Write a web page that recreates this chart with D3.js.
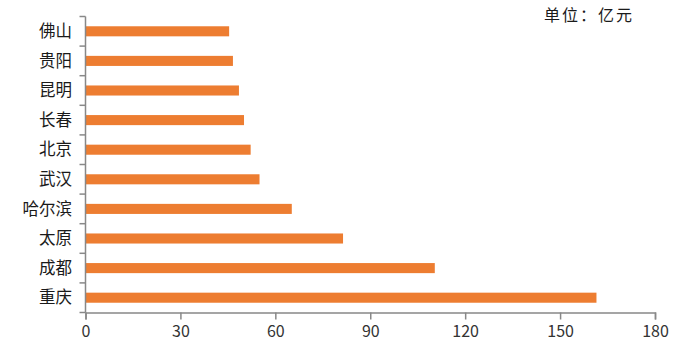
<!DOCTYPE html>
<html>
<head>
<meta charset="utf-8">
<script src="https://cdn.jsdelivr.net/npm/d3@7"></script>
<style>
body { margin: 0; background: #fff; }
text { font-family: "Noto Sans CJK SC", sans-serif; }
</style>
</head>
<body>
<script>
var w = 688;
var h = 355;

var cities = ["佛山", "贵阳", "昆明", "长春", "北京", "武汉", "哈尔滨", "太原", "成都", "重庆"];
var values = [45.4, 46.6, 48.5, 50.1, 52.2, 55.0, 65.2, 81.4, 110.4, 161.5];
var xTicks = [0, 30, 60, 90, 120, 150, 180];
var unitLabel = "单位：亿元";

var plotLeft = 85.5, plotRight = 655, plotTop = 16.5, plotBottom = 312.5;

var svg = d3.select("body").append("svg")
    .attr("width", w)
    .attr("height", h);

var x = d3.scaleLinear().domain([0, 180]).range([plotLeft, plotRight]);
var y = d3.scaleBand().domain(cities).range([plotTop, plotBottom]).paddingInner(0.66).paddingOuter(0.33);

// bars
svg.selectAll("rect.bar")
    .data(cities)
    .enter()
    .append("rect")
    .attr("class", "bar")
    .attr("x", x(0))
    .attr("y", function(d){ return y(d); })
    .attr("width", function(d, i){ return x(values[i]) - x(0); })
    .attr("height", y.bandwidth())
    .attr("fill", "#ED7D31");

// y axis: line plus ticks at band edges
var yAxis = svg.append("g");
yAxis.append("line")
    .attr("x1", plotLeft).attr("x2", plotLeft)
    .attr("y1", plotTop).attr("y2", plotBottom)
    .attr("stroke", "#888").attr("stroke-width", 1.5);
var edges = d3.range(cities.length + 1).map(function(i){ return plotTop + i * (plotBottom - plotTop) / cities.length; });
yAxis.selectAll("line.tk")
    .data(edges)
    .enter()
    .append("line")
    .attr("class", "tk")
    .attr("x1", plotLeft - 6).attr("x2", plotLeft)
    .attr("y1", function(d){ return d; }).attr("y2", function(d){ return d; })
    .attr("stroke", "#888").attr("stroke-width", 1.5);
yAxis.selectAll("text")
    .data(cities)
    .enter()
    .append("text")
    .attr("x", 72)
    .attr("y", function(d){ return y(d) + y.bandwidth() / 2; })
    .attr("dy", "0.35em")
    .attr("text-anchor", "end")
    .attr("font-size", 16.5)
    .attr("fill", "#1a1a1a")
    .text(function(d){ return d; });

// x axis
var xAxis = svg.append("g")
    .attr("transform", "translate(0," + plotBottom + ")")
    .call(d3.axisBottom(x).tickValues(xTicks).tickSize(7).tickPadding(6));
xAxis.select(".domain").attr("stroke", "#888").attr("stroke-width", 1.5);
xAxis.selectAll(".tick line").attr("stroke", "#888").attr("stroke-width", 1.5);
xAxis.selectAll(".tick text")
    .attr("font-size", 16)
    .attr("fill", "#333")
    .style("font-family", "'Noto Sans CJK SC', sans-serif");

// unit label
svg.append("text")
    .attr("x", 589)
    .attr("y", 15)
    .attr("dy", "0.35em")
    .attr("text-anchor", "middle")
    .attr("font-size", 16)
    .attr("letter-spacing", 2)
    .attr("fill", "#1a1a1a")
    .text(unitLabel);
</script>
</body>
</html>
